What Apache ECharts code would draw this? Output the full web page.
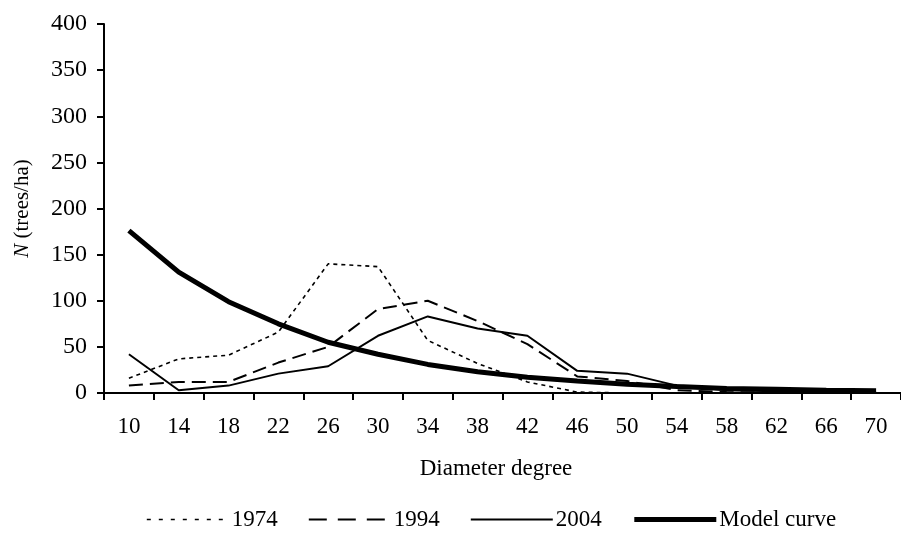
<!DOCTYPE html>
<html>
<head>
<meta charset="utf-8">
<script src="https://cdn.jsdelivr.net/npm/echarts@6/dist/echarts.min.js"></script>
<style>
html,body{margin:0;padding:0;background:#fff;}
#chart{width:901px;height:533px;}
</style>
</head>
<body>
<div id="chart"></div>
<script>
var categories = ['10','14','18','22','26','30','34','38','42','46','50','54','58','62','66','70'];
var s1974 = [16, 37, 41, 66, 140, 137, 57, 32, 12, 1, 0, 0, 0, 0, 0, 0];
var s1994 = [8, 12, 12, 33, 50, 91, 100, 78, 53, 18, 13, 3, 1, 0, 0, 0];
var s2004 = [42, 3, 8, 21, 29, 62, 83, 70, 62, 24, 21, 8, 3, 2, 1, 1];
var sModel = [176, 131, 99, 75, 55, 42, 31, 23, 17, 13, 9.5, 7, 5, 4, 3, 2.5];
var seriesNames = ['1974', '1994', '2004', 'Model curve'];
var yTicks = {min: 0, max: 400, interval: 50};

var FONT = '"Liberation Serif", "DejaVu Serif", serif';
var chart = echarts.init(document.getElementById('chart'), null, {renderer: 'canvas'});

var styles = [
  {width: 1.6, type: [4, 4], legendType: [4, 8]},
  {width: 2, type: [14, 7], legendType: [18, 11]},
  {width: 2, type: 'solid', legendType: 'solid'},
  {width: 5, type: 'solid', legendType: 'solid'}
];
var seriesData = [s1974, s1994, s2004, sModel];

chart.setOption({
  backgroundColor: '#fff',
  animation: false,
  grid: {left: 104, top: 24, width: 800, height: 369, containLabel: false},
  legend: {
    left: 146, top: 508, padding: 0,
    itemWidth: 82, itemHeight: 10, itemGap: 30,
    itemStyle: {opacity: 0},
    textStyle: {fontFamily: FONT, fontSize: 23, color: '#000', padding: [0, 0, 0, -2]},
    data: seriesNames.map(function (n, i) {
      return {name: n, itemStyle: {opacity: 0, borderWidth: 0},
        lineStyle: {color: '#000', width: styles[i].width, type: styles[i].legendType, opacity: 1}};
    })
  },
  xAxis: {
    type: 'category', data: categories, boundaryGap: true,
    name: 'Diameter degree', nameLocation: 'middle', nameGap: 64,
    nameTextStyle: {fontFamily: FONT, fontSize: 23, color: '#000', padding: [0, 13, 0, 0]},
    axisLine: {lineStyle: {color: '#000', width: 2}},
    axisTick: {show: true, length: 7, lineStyle: {color: '#000', width: 2}},
    axisLabel: {fontFamily: FONT, fontSize: 23, color: '#000', margin: 22},
    splitLine: {show: false}
  },
  yAxis: {
    type: 'value', min: yTicks.min, max: yTicks.max, interval: yTicks.interval,
    name: '{i|N} (trees/ha)', nameLocation: 'middle', nameGap: 71,
    nameTextStyle: {fontFamily: FONT, fontSize: 21, color: '#000',
      rich: {i: {fontFamily: FONT, fontSize: 21, fontStyle: 'italic', color: '#000'}}},
    axisLine: {show: true, lineStyle: {color: '#000', width: 2}},
    axisTick: {show: true, length: 7, lineStyle: {color: '#000', width: 2}},
    axisLabel: {fontFamily: FONT, fontSize: 24, color: '#000', margin: 17},
    splitLine: {show: false}
  },
  series: seriesNames.map(function (n, i) {
    return {
      name: n, type: 'line', data: seriesData[i], symbol: 'none', showSymbol: false,
      lineStyle: {color: '#000', width: styles[i].width, type: styles[i].type},
      itemStyle: {color: '#000'},
      emphasis: {disabled: true},
      animation: false
    };
  })
});
</script>
</body>
</html>
